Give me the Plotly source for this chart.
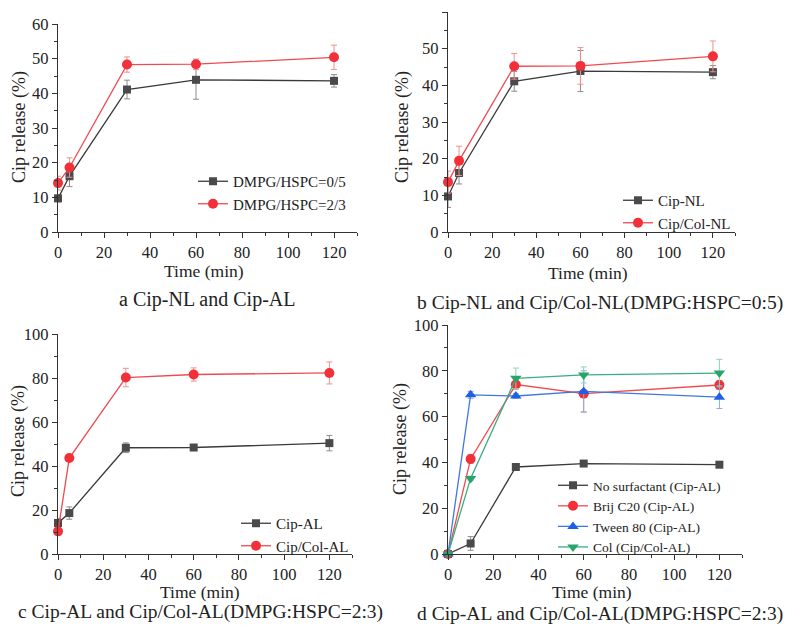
import plotly.graph_objects as go

# The page body has an 8px default margin, so the figure is drawn 8px in from
# the window's top-left corner; positions below are given in window pixels.
OFF = 8
W, H = 800 - OFF, 632 - OFF
FONT = "Liberation Serif"

# ---------------- data ----------------
time_abc = [0, 5, 30, 60, 120]
time_d = [0, 10, 30, 60, 120]

a_names = ["DMPG/HSPC=0/5", "DMPG/HSPC=2/3"]
a_gray = [9.7, 16.1, 41.1, 43.9, 43.6]
a_gray_err = [1.0, 3.0, 2.7, 5.6, 1.8]
a_red = [14.1, 18.6, 48.3, 48.4, 50.4]
a_red_err = [2.0, 2.8, 2.2, 1.5, 3.5]

b_names = ["Cip-NL", "Cip/Col-NL"]
b_gray = [9.7, 16.1, 41.1, 43.9, 43.6]
b_gray_err = [3.0, 3.0, 2.7, 5.6, 1.8]
b_red = [13.6, 19.4, 45.2, 45.3, 47.9]
b_red_err = [3.0, 4.0, 3.5, 5.0, 4.2]

c_names = ["Cip-AL", "Cip/Col-AL"]
c_gray = [14.1, 18.6, 48.3, 48.4, 50.4]
c_gray_err = [2.0, 2.8, 2.2, 1.0, 3.5]
c_red = [10.3, 43.6, 80.2, 81.6, 82.3]
c_red_err = [1.0, 1.0, 4.2, 3.0, 5.0]

d_names = ["No surfactant (Cip-AL)", "Brij C20 (Cip-AL)", "Tween 80 (Cip-AL)", "Col (Cip/Col-AL)"]
d_gray = [0, 4.6, 38.0, 39.5, 39.0]
d_gray_err = [0, 3.0, 1.0, 1.0, 1.0]
d_red = [0, 41.5, 74.0, 70.0, 73.8]
d_red_err = [0, 2.0, 2.0, 8.0, 2.0]
d_blue = [0, 69.5, 69.0, 71.0, 68.5]
d_blue_err = [0, 1.5, 1.0, 9.0, 5.0]
d_green = [0, 33.0, 76.7, 78.2, 79.0]
d_green_err = [0, 1.0, 4.5, 3.5, 6.0]

captions = ["a Cip-NL and Cip-AL",
            "b Cip-NL and Cip/Col-NL(DMPG:HSPC=0:5)",
            "c Cip-AL and Cip/Col-AL(DMPG:HSPC=2:3)",
            "d Cip-AL and Cip/Col-AL(DMPG:HSPC=2:3)"]

# ---------------- styles ----------------
STY = {
    "gray": dict(line="#3a3a3a", mk="#4a4a4a", err="#8c8c8c", sym="square", size=8),
    "red": dict(line="#f04a50", mk="#f2303a", err="#f09090", sym="circle", size=10),
    "blue": dict(line="#3f78dc", mk="#1f5fe6", err="#88a8e8", sym="triangle-up", size=10),
    "green": dict(line="#3aae80", mk="#28a46c", err="#90d0b4", sym="triangle-down", size=10),
}

def px(x):
    return (x - OFF) / W

def py(y):
    return 1 - (y - OFF) / H

fig = go.Figure()

def add(x, y, err, name, style, ax, leg):
    s = STY[style]
    fig.add_trace(go.Scatter(
        x=x, y=y, name=name, mode="lines+markers",
        line=dict(color=s["line"], width=1.3),
        marker=dict(symbol=s["sym"], size=s["size"], color=s["mk"]),
        error_y=dict(type="data", array=err, visible=True, color=s["err"], thickness=1, width=3),
        xaxis="x" + ax, yaxis="y" + ax, legend=leg, cliponaxis=False,
    ))

add(time_abc, a_gray, a_gray_err, a_names[0], "gray", "", "legend")
add(time_abc, a_red, a_red_err, a_names[1], "red", "", "legend")
add(time_abc, b_gray, b_gray_err, b_names[0], "gray", "2", "legend2")
add(time_abc, b_red, b_red_err, b_names[1], "red", "2", "legend2")
add(time_abc, c_gray, c_gray_err, c_names[0], "gray", "3", "legend3")
add(time_abc, c_red, c_red_err, c_names[1], "red", "3", "legend3")
add(time_d, d_gray, d_gray_err, d_names[0], "gray", "4", "legend4")
add(time_d, d_red, d_red_err, d_names[1], "red", "4", "legend4")
add(time_d, d_blue, d_blue_err, d_names[2], "blue", "4", "legend4")
add(time_d, d_green, d_green_err, d_names[3], "green", "4", "legend4")

# panel pixel boxes: (left, right, top, bottom), y max, y tick step
panels = [
    (58, 357, 24, 232, 60, 10),
    (448, 735, 12, 232, 60, 10),
    (58, 352, 334, 554, 100, 20),
    (448, 742, 325, 554, 100, 20),
]

axis_common = dict(
    showgrid=False, zeroline=False, showline=True, linecolor="#333333", linewidth=1.2,
    ticks="outside", ticklen=5, tickwidth=1, tickcolor="#333333", automargin=False,
    tickfont=dict(family=FONT, size=16.5, color="#222222"),
)

layout = {}
for i, (l, r, t, b, ymax, ystep) in enumerate(panels):
    sfx = "" if i == 0 else str(i + 1)
    layout["xaxis" + sfx] = dict(
        axis_common, domain=[px(l), px(r)], range=[0, 130], dtick=20, tick0=0,
        anchor="y" + sfx,
        minor=dict(ticks="outside", ticklen=3, dtick=10, tickcolor="#333333"),
    )
    layout["yaxis" + sfx] = dict(
        axis_common, domain=[py(b), py(t)], range=[0, ymax], dtick=ystep, tick0=0,
        anchor="x" + sfx,
        minor=dict(ticks="outside", ticklen=3, dtick=ystep / 2, tickcolor="#333333"),
    )

legend_common = dict(font=dict(family=FONT, size=15, color="#222222"),
                     bgcolor="rgba(0,0,0,0)", xanchor="left", yanchor="top",
                     tracegroupgap=0, itemwidth=30)
layout["legend"] = dict(legend_common, x=px(193), y=py(165))
layout["legend2"] = dict(legend_common, x=px(618), y=py(184))
layout["legend3"] = dict(legend_common, x=px(236), y=py(507))
layout["legend4"] = dict(legend_common, x=px(553), y=py(470),
                         font=dict(family=FONT, size=13.5, color="#222222"))

ann = []
def text(x, y, s, size, angle=0):
    ann.append(dict(x=px(x), y=py(y), xref="paper", yref="paper", text=s, showarrow=False,
                    xanchor="center", yanchor="middle", textangle=angle,
                    font=dict(family=FONT, size=size, color="#222222")))

# x-axis titles
text(204, 271, "Time (min)", 17.5)
text(588, 273, "Time (min)", 17.5)
text(200, 592, "Time (min)", 17.5)
text(592, 592, "Time (min)", 17.5)
# y-axis titles
text(19, 127, "Cip release (%)", 18, -90)
text(402, 127, "Cip release (%)", 18, -90)
text(18, 441, "Cip release (%)", 18, -90)
text(400, 439, "Cip release (%)", 18, -90)
# captions
text(207, 299, captions[0], 20)
text(600, 303, captions[1], 19.5)
text(200, 612, captions[2], 19.5)
text(600, 614, captions[3], 19.5)

fig.update_layout(
    width=W, height=H, margin=dict(l=0, r=0, t=0, b=0, autoexpand=False),
    paper_bgcolor="white", plot_bgcolor="white",
    font=dict(family=FONT, color="#222222"),
    annotations=ann, **layout,
)

fig.write_html("out.html")
